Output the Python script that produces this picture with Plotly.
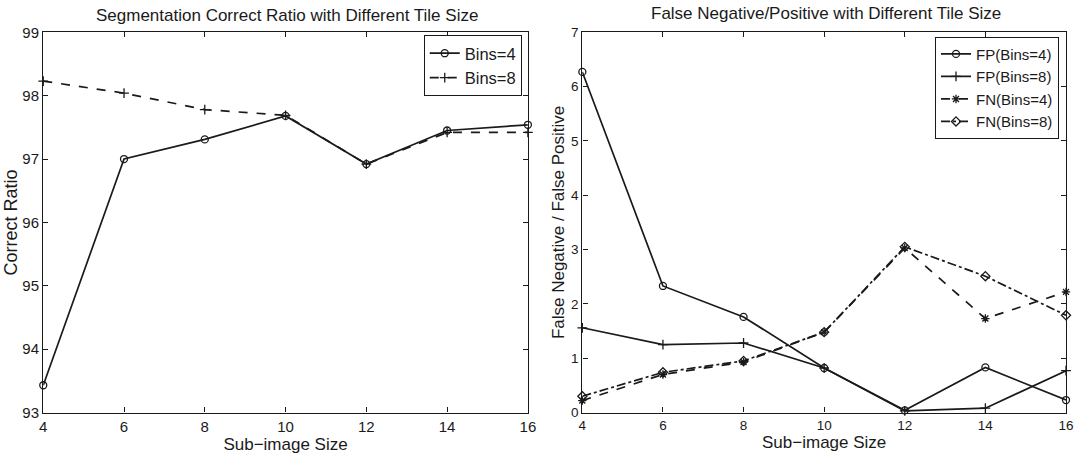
import plotly.graph_objects as go

sizes = [4, 6, 8, 10, 12, 14, 16]

# Left panel: correct ratio
ratio_bins4 = [93.43, 97.0, 97.31, 97.68, 96.92, 97.45, 97.54]
ratio_bins8 = [98.23, 98.04, 97.78, 97.69, 96.92, 97.42, 97.42]

# Right panel: false positive / false negative
fp_bins4 = [6.27, 2.33, 1.76, 0.82, 0.04, 0.83, 0.23]
fp_bins8 = [1.56, 1.25, 1.28, 0.82, 0.03, 0.08, 0.77]
fn_bins4 = [0.22, 0.70, 0.93, 1.48, 3.03, 1.73, 2.22]
fn_bins8 = [0.30, 0.74, 0.95, 1.48, 3.05, 2.51, 1.79]

left_yticks = [93, 94, 95, 96, 97, 98, 99]
right_yticks = [0, 1, 2, 3, 4, 5, 6, 7]

INK = "#1a1a1a"
FONT = "Liberation Sans, Arial, sans-serif"

W, H = 1076, 458

fig = go.Figure()

def add(x, y, name, dash, symbol, xa, ya, legend):
    fig.add_trace(go.Scatter(
        x=x, y=y, name=name, mode="lines+markers",
        line=dict(color=INK, width=1.7, dash=dash),
        marker=dict(symbol=symbol, size=7, color=INK,
                    line=dict(color=INK, width=1.3)),
        xaxis=xa, yaxis=ya, legend=legend, cliponaxis=False,
    ))

add(sizes, ratio_bins4, "Bins=4", "solid", "circle-open", "x", "y", "legend")
add(sizes, ratio_bins8, "Bins=8", "dash", "cross-thin-open", "x", "y", "legend")

add(sizes, fp_bins4, "FP(Bins=4)", "solid", "circle-open", "x2", "y2", "legend2")
add(sizes, fp_bins8, "FP(Bins=8)", "solid", "cross-thin-open", "x2", "y2", "legend2")
add(sizes, fn_bins4, "FN(Bins=4)", "dash", "asterisk-open", "x2", "y2", "legend2")
add(sizes, fn_bins8, "FN(Bins=8)", "dashdot", "diamond-open", "x2", "y2", "legend2")

def axis(size):
    return dict(
        showline=True, linecolor=INK, linewidth=1.4, mirror="ticks",
        ticks="inside", ticklen=5, tickcolor=INK, tickwidth=1,
        showgrid=False, zeroline=False, automargin=False,
        tickfont=dict(family=FONT, size=size, color=INK),
    )

def title(text, size=17, standoff=2):
    return dict(text=text, font=dict(size=size, family=FONT, color=INK), standoff=standoff)

ydom = [0.0993, 0.9295]

fig.update_layout(
    width=W, height=H,
    margin=dict(l=0, r=0, t=0, b=0, autoexpand=False),
    paper_bgcolor="white", plot_bgcolor="white",
    font=dict(family=FONT, color=INK),
    xaxis=dict(domain=[0.0402, 0.4906], range=[4, 16], tickvals=sizes,
               anchor="y", title=title("Sub\u2212image Size", 17, 2), **axis(15)),
    yaxis=dict(domain=ydom, range=[93, 99], tickvals=left_yticks,
               anchor="x", title=title("Correct Ratio", 18, 0), **axis(15)),
    xaxis2=dict(domain=[0.5412, 0.9907], range=[4, 16], tickvals=sizes,
                anchor="y2", title=title("Sub\u2212image Size", 17, 4), **axis(13.5)),
    yaxis2=dict(domain=ydom, range=[0, 7], tickvals=right_yticks,
                anchor="x2", title=title("False Negative / False Positive", 17, 1), **axis(13.5)),
    legend=dict(x=0.4849, y=0.9236, xanchor="right", yanchor="top",
                bgcolor="white", bordercolor=INK, borderwidth=1,
                font=dict(family=FONT, size=16.5, color=INK),
                itemwidth=30, tracegroupgap=0),
    legend2=dict(x=0.9842, y=0.9199, xanchor="right", yanchor="top",
                 bgcolor="white", bordercolor=INK, borderwidth=1,
                 font=dict(family=FONT, size=15, color=INK),
                 itemwidth=30, tracegroupgap=0),
    annotations=[
        dict(text="Segmentation Correct Ratio with Different Tile Size",
             x=0.2667, y=1 - 15 / H, xref="paper", yref="paper",
             xanchor="center", yanchor="middle", showarrow=False,
             font=dict(family=FONT, size=17, color=INK)),
        dict(text="False Negative/Positive with Different Tile Size",
             x=0.7677, y=1 - 14 / H, xref="paper", yref="paper",
             xanchor="center", yanchor="middle", showarrow=False,
             font=dict(family=FONT, size=17, color=INK)),
    ],
)

fig.write_html(
    "out.html",
    config={"displayModeBar": False},
    post_script="document.body.style.margin='0';document.body.style.overflow='hidden';",
)
